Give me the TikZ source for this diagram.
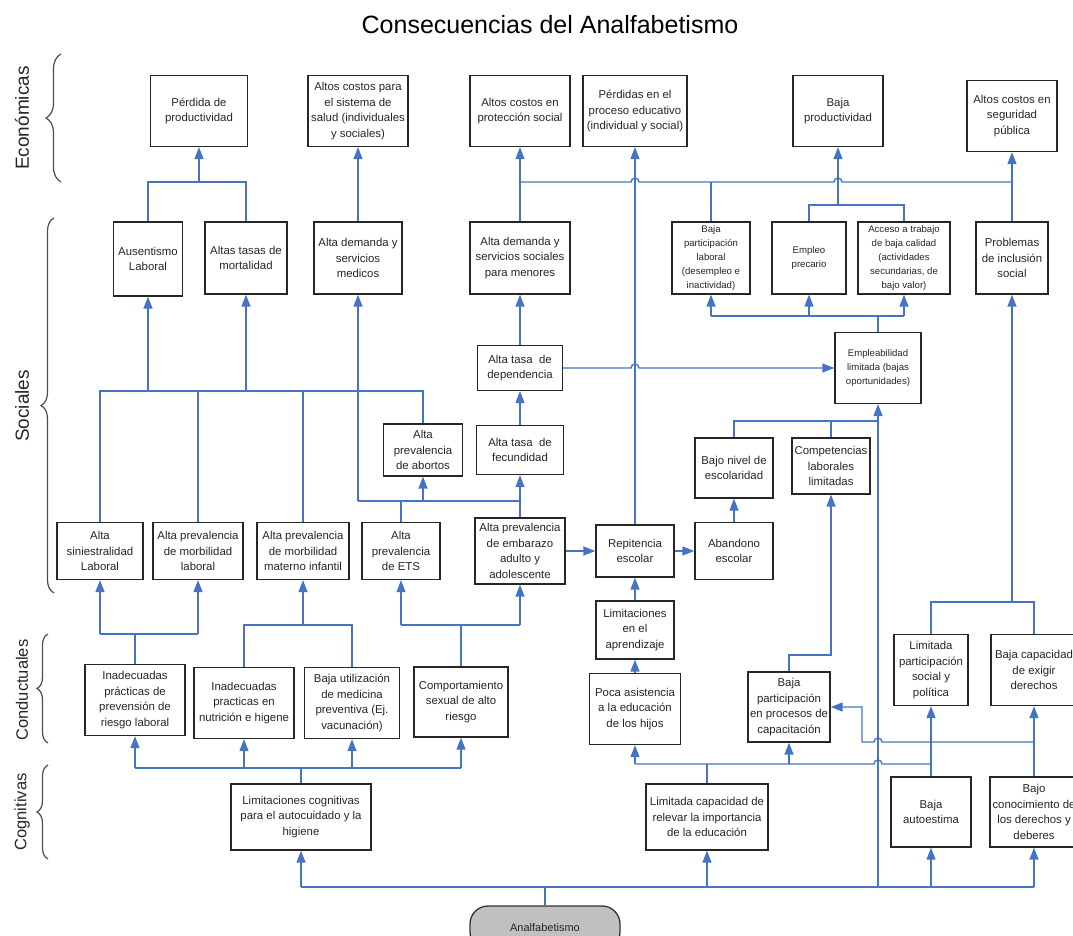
\documentclass[tikz,border=0pt]{standalone}
\usepackage{fontspec}
\setmainfont{Liberation Sans}
\usetikzlibrary{arrows.meta,decorations.pathreplacing}
\definecolor{linkblue}{RGB}{70,116,196}
\definecolor{rootgrey}{RGB}{192,192,192}

\begin{document}
\begin{tikzpicture}[x=1pt,y=-1pt,
    box/.style={draw=black!85,line width=1.3pt,fill=white,text=black!85,align=center,inner sep=1pt,font=\fontsize{11.4}{15.6}\selectfont},
    smallbox/.style={box,font=\fontsize{9.6}{13.8}\selectfont},
    link/.style={draw=linkblue,line width=1.4pt},
    flow/.style={link,-{Triangle[length=12pt,width=9pt]}},
    group/.style={decorate,decoration={brace,amplitude=#1,aspect=0.5},draw=black!70,line width=1.2pt},
    side/.style={rotate=90,text=black!85,font=\fontsize{#1}{#1}\selectfont}]
  \useasboundingbox (0,0) rectangle (1073,936);

  \node[font=\fontsize{25}{30}\selectfont] (title) at (550,25) {Consecuencias del Analfabetismo};

  \node[side=19] (lEco) at (22,118) {Económicas};
  \node[side=19] (lSoc) at (22,406) {Sociales};
  \node[side=16.5] (lCon) at (22,690) {Conductuales};
  \node[side=16.5] (lCog) at (22,812) {Cognitivas};
  \draw[group=15pt] (61,182) -- (61,54);
  \draw[group=13pt] (54,593) -- (54,218);
  \draw[group=11pt] (48,743) -- (48,634);
  \draw[group=11pt] (48,859) -- (48,765);

  \node[box,minimum width=97,minimum height=71] (E1) at (199,111) {Pérdida de\\productividad};
  \node[box,minimum width=100,minimum height=71] (E2) at (358,111) {Altos costos para\\el sistema de\\salud (individuales\\y sociales)};
  \node[box,minimum width=100,minimum height=71] (E3) at (520,111) {Altos costos en\\protección social};
  \node[box,minimum width=104,minimum height=71] (E4) at (635,111) {Pérdidas en el\\proceso educativo\\(individual y social)};
  \node[box,minimum width=90,minimum height=71] (E5) at (838,111) {Baja\\productividad};
  \node[box,minimum width=90,minimum height=71] (E6) at (1012,116) {Altos costos en\\seguridad\\pública};

  \node[box,minimum width=69,minimum height=74] (S1) at (148,259) {Ausentismo\\Laboral};
  \node[box,minimum width=82,minimum height=72] (S2) at (246,258) {Altas tasas de\\mortalidad};
  \node[box,minimum width=88,minimum height=72] (S3) at (358,258) {Alta demanda y\\servicios\\medicos};
  \node[box,minimum width=100,minimum height=72] (S4) at (520,258) {Alta demanda y\\servicios sociales\\para menores};
  \node[smallbox,minimum width=78,minimum height=72] (S5) at (711,258) {Baja\\participación\\laboral\\(desempleo e\\inactividad)};
  \node[smallbox,minimum width=74,minimum height=72] (S6) at (809,258) {Empleo\\precario};
  \node[smallbox,minimum width=92,minimum height=72] (S7) at (904,258) {Acceso a trabajo\\de baja calidad\\(actividades\\secundarias, de\\bajo valor)};
  \node[box,minimum width=72,minimum height=72] (S8) at (1012,258) {Problemas\\de inclusión\\social};

  \node[box,minimum width=85,minimum height=45] (M1) at (520,368) {Alta tasa~ de\\dependencia};
  \node[smallbox,minimum width=86,minimum height=71] (M2) at (878,368) {Empleabilidad\\limitada (bajas\\oportunidades)};
  \node[box,minimum width=79,minimum height=52] (M3) at (423,450) {Alta\\prevalencia\\de abortos};
  \node[box,minimum width=87,minimum height=49] (M4) at (520,450) {Alta tasa~ de\\fecundidad};
  \node[box,minimum width=78,minimum height=60] (M5) at (734,468) {Bajo nivel de\\escolaridad};
  \node[box,minimum width=78,minimum height=56] (M6) at (831,466) {Competencias\\laborales\\limitadas};

  \node[box,minimum width=86,minimum height=57] (L1) at (100,551) {Alta\\siniestralidad\\Laboral};
  \node[box,minimum width=90,minimum height=57] (L2) at (198,551) {Alta prevalencia\\de morbilidad\\laboral};
  \node[box,minimum width=92,minimum height=57] (L3) at (303,551) {Alta prevalencia\\de morbilidad\\materno infantil};
  \node[box,minimum width=78,minimum height=57] (L4) at (401,551) {Alta\\prevalencia\\de ETS};
  \node[box,minimum width=90,minimum height=66] (L5) at (520,551) {Alta prevalencia\\de embarazo\\adulto y\\adolescente};
  \node[box,minimum width=78,minimum height=52] (L6) at (635,551) {Repitencia\\escolar};
  \node[box,minimum width=78,minimum height=57] (L7) at (734,551) {Abandono\\escolar};
  \node[box,minimum width=78,minimum height=58] (A1) at (635,630) {Limitaciones\\en el\\aprendizaje};

  \node[box,minimum width=100,minimum height=71] (K1) at (135,700) {Inadecuadas\\prácticas de\\prevensión de\\riesgo laboral};
  \node[box,minimum width=100,minimum height=71] (K2) at (244,703) {Inadecuadas\\practicas en\\nutrición e higene};
  \node[box,minimum width=95,minimum height=71] (K3) at (352,703) {Baja utilización\\de medicina\\preventiva (Ej.\\vacunación)};
  \node[box,minimum width=94,minimum height=70] (K4) at (461,702) {Comportamiento\\sexual de alto\\riesgo};
  \node[box,minimum width=91,minimum height=71] (K5) at (635,709) {Poca asistencia\\a la educación\\de los hijos};
  \node[box,minimum width=82,minimum height=70] (K6) at (789,707) {Baja\\participación\\en procesos de\\capacitación};
  \node[box,minimum width=74,minimum height=71] (K7) at (931,670) {Limitada\\participación\\social y\\política};
  \node[box,minimum width=86,minimum height=71] (K8) at (1034,670) {Baja capacidad\\de exigir\\derechos};

  \node[box,minimum width=140,minimum height=66] (C1) at (301,817) {Limitaciones cognitivas\\para el autocuidado y la\\higiene};
  \node[box,minimum width=122,minimum height=66] (C2) at (707,817) {Limitada capacidad de\\relevar la importancia\\de la educación};
  \node[box,minimum width=80,minimum height=70] (C3) at (931,812) {Baja\\autoestima};
  \node[box,minimum width=88,minimum height=70] (C4) at (1034,812) {Bajo\\conocimiento de\\los derechos y\\deberes};

  \node[draw=black!80,line width=1.3pt,fill=rootgrey,rounded corners=18pt,minimum width=150,minimum height=44,font=\fontsize{11}{13}\selectfont,text=black!85] (R) at (545,928) {Analfabetismo};

  \coordinate (jE1) at (199,182);
  \coordinate (jE6) at (1012,182);
  \coordinate (jE5) at (838,205);
  \coordinate (jOcc) at (878,316);
  \coordinate (jSoc) at (423,391);
  \coordinate (jEmp) at (878,421);
  \coordinate (jEmb) at (358,501);
  \coordinate (jInc) at (1012,602);
  \coordinate (jMat) at (303,625);
  \coordinate (jSex) at (461,625);
  \coordinate (jRisk) at (135,634);
  \coordinate (jCap) at (789,655);
  \coordinate (jDer) at (1034,742);
  \coordinate (jEdu) at (707,764);
  \coordinate (jCog) at (301,768);
  \coordinate (jRoot) at (545,887);

  \draw[link] (S1.north) |- (jE1) -| (S2.north);
  \draw[flow] (jE1) -- (E1.south);
  \draw[flow] (S3.north) -- (E2.south);
  \draw[flow] (S4.north) -- (E3.south);
  \draw[link] (S4.north |- jE1) -- (631,182) arc[start angle=180,end angle=360,radius=4] -- (834,182) arc[start angle=180,end angle=360,radius=4] -- (jE6);
  \draw[link] (S5.north) -- (S5.north |- jE1);
  \draw[flow] (S8.north) -- (E6.south);
  \draw[link] (S6.north) |- (jE5) -| (S7.north);
  \draw[flow] (jE5) -- (E5.south);
  \draw[flow] (L6.north) -- (E4.south);

  \draw[link] (L1.north) |- (jSoc) -- (M3.north);
  \draw[link] (L2.north) -- (L2.north |- jSoc);
  \draw[link] (L3.north) -- (L3.north |- jSoc);
  \foreach \n in {S1,S2}
    \draw[flow] (\n.south |- jSoc) -- (\n.south);
  \draw[flow] (jEmb) -- (S3.south);
  \draw[link] (jEmb) -- (L5.north |- jEmb);
  \draw[link] (L4.north) -- (L4.north |- jEmb);
  \draw[flow] (M3.south |- jEmb) -- (M3.south);
  \draw[flow] (L5.north) -- (M4.south);
  \draw[flow] (M4.north) -- (M1.south);
  \draw[flow] (M1.north) -- (S4.south);
  \draw[flow] (M1.east) -- (631,368) arc[start angle=180,end angle=360,radius=4] -- (M2.west);
  \draw[flow] (L5.east) -- (L6.west);
  \draw[flow] (L6.east) -- (L7.west);
  \draw[flow] (L7.north) -- (M5.south);
  \draw[link] (M5.north) |- (jEmp);
  \draw[link] (M6.north) -- (M6.north |- jEmp);
  \draw[link] (M2.north) -- (jOcc);
  \draw[link] (S5.south |- jOcc) -- (S7.south |- jOcc);
  \foreach \n in {S5,S6,S7}
    \draw[flow] (\n.south |- jOcc) -- (\n.south);

  \draw[link] (K1.north) -- (jRisk);
  \draw[link] (L1.south |- jRisk) -- (L2.south |- jRisk);
  \foreach \n in {L1,L2}
    \draw[flow] (\n.south |- jRisk) -- (\n.south);
  \draw[link] (K2.north) |- (jMat) -| (K3.north);
  \draw[flow] (jMat) -- (L3.south);
  \draw[link] (K4.north) -- (jSex);
  \draw[link] (L4.south |- jSex) -- (L5.south |- jSex);
  \foreach \n in {L4,L5}
    \draw[flow] (\n.south |- jSex) -- (\n.south);
  \draw[flow] (A1.north) -- (L6.south);
  \draw[flow] (K5.north) -- (A1.south);
  \draw[flow] (K6.north) -- (jCap) -| (M6.south);
  \draw[link] (K7.north) |- (jInc) -| (K8.north);
  \draw[flow] (jInc) -- (S8.south);

  \draw[link] (C1.north) -- (jCog);
  \draw[link] (K1.south |- jCog) -- (K4.south |- jCog);
  \foreach \n in {K1,K2,K3,K4}
    \draw[flow] (\n.south |- jCog) -- (\n.south);
  \draw[link] (C2.north) -- (jEdu);
  \draw[link] (K5.south |- jEdu) -- (874,764) arc[start angle=180,end angle=360,radius=4] -- (C3.north |- jEdu);
  \foreach \n in {K5,K6}
    \draw[flow] (\n.south |- jEdu) -- (\n.south);
  \draw[flow] (C3.north) -- (K7.south);
  \draw[flow] (C4.north) -- (K8.south);
  \draw[flow] (jDer) -- (882,742) arc[start angle=360,end angle=180,radius=4] -- (862,742) |- (K6.east);

  \draw[link] (R.north) -- (jRoot);
  \draw[link] (C1.south |- jRoot) -- (C4.south |- jRoot);
  \foreach \n in {C1,C2,C3,C4}
    \draw[flow] (\n.south |- jRoot) -- (\n.south);
  \draw[flow] (M2.south |- jRoot) -- (jEmp) -- (M2.south);
\end{tikzpicture}
\end{document}
